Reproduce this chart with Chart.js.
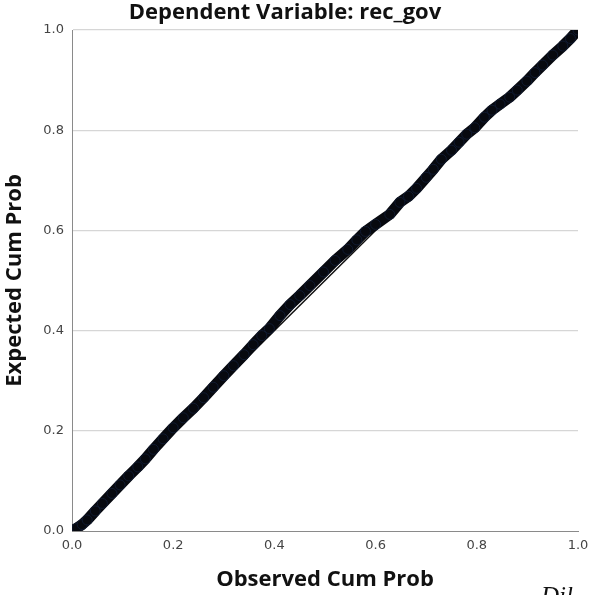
<!DOCTYPE html>
<html>
<head>
<meta charset="utf-8">
<script src="https://cdn.jsdelivr.net/npm/chart.js@4.4.1/dist/chart.umd.min.js"></script>
<style>
  html, body { margin: 0; padding: 0; background: #fff; }
  #wrap { width: 592px; height: 595px; }
</style>
</head>
<body>
<div id="wrap"><canvas id="pp"></canvas></div>
<script>
// Normal P-P plot of regression standardized residual
const observedCum = [0.000, 0.010, 0.020, 0.030, 0.046, 0.060, 0.079, 0.095, 0.112, 0.130,
  0.145, 0.161, 0.180, 0.200, 0.220, 0.240, 0.260, 0.279, 0.300, 0.319,
  0.340, 0.358, 0.375, 0.390, 0.411, 0.431, 0.450, 0.470, 0.497, 0.520,
  0.545, 0.563, 0.580, 0.600, 0.628, 0.648, 0.665, 0.681, 0.700, 0.714,
  0.730, 0.750, 0.765, 0.780, 0.796, 0.815, 0.830, 0.846, 0.865, 0.880,
  0.899, 0.915, 0.930, 0.950, 0.970, 0.985, 1.000];
const expectedCum = [0.000, 0.006, 0.013, 0.022, 0.040, 0.055, 0.075, 0.092, 0.110, 0.128,
  0.144, 0.163, 0.184, 0.206, 0.226, 0.245, 0.266, 0.287, 0.310, 0.330,
  0.352, 0.372, 0.390, 0.404, 0.430, 0.452, 0.470, 0.490, 0.517, 0.540,
  0.562, 0.581, 0.598, 0.612, 0.632, 0.656, 0.668, 0.684, 0.706, 0.722,
  0.742, 0.760, 0.776, 0.792, 0.805, 0.826, 0.840, 0.852, 0.866, 0.880,
  0.898, 0.915, 0.930, 0.950, 0.968, 0.983, 1.000];
const diagX = [0, 1];
const diagY = [0, 1];
const tickVals = [0, 0.2, 0.4, 0.6, 0.8, 1.0];

const titleText = "Dependent Variable: rec_gov";
const xTitle = "Observed Cum Prob";
const yTitle = "Expected Cum Prob";

const points = observedCum.map((x, i) => ({ x: x, y: expectedCum[i] }));
const diag = diagX.map((x, i) => ({ x: x, y: diagY[i] }));

// title at top and the cut-off text of the page below the figure
const extraText = {
  id: "extraText",
  afterDraw(chart) {
    const ctx = chart.ctx;
    ctx.save();
    ctx.fillStyle = "#111";
    ctx.textAlign = "center";
    ctx.textBaseline = "alphabetic";
    ctx.font = "bold 22px 'Open Sans'";
    ctx.fillText(titleText, 285, 19);
    ctx.textAlign = "left";
    ctx.font = "italic 25px 'Liberation Serif'";
    ctx.fillText("Dil", 541, 604);
    ctx.restore();
  }
};

new Chart(document.getElementById("pp"), {
  type: "scatter",
  data: {
    datasets: [
      {
        label: "diagonal",
        data: diag,
        showLine: true,
        borderColor: "#111",
        borderWidth: 1.5,
        pointRadius: 0,
        order: 2
      },
      {
        label: "residuals",
        data: points,
        showLine: true,
        borderColor: "#07090f",
        borderWidth: 11,
        borderCapStyle: "round",
        borderJoinStyle: "round",
        backgroundColor: "#07090f",
        pointBorderColor: "#101a30",
        pointRadius: 5,
        pointBorderWidth: 1,
        order: 1
      }
    ]
  },
  options: {
    responsive: true,
    maintainAspectRatio: false,
    animation: false,
    layout: { padding: { top: 30, right: 14, left: 0, bottom: 0 } },
    plugins: {
      legend: { display: false },
      tooltip: { enabled: false }
    },
    scales: {
      x: {
        type: "linear",
        min: 0,
        max: 1,
        afterFit: (s) => { s.height = 64; s.paddingLeft = 0; s.paddingRight = 0; },
        afterBuildTicks: (s) => { s.ticks = tickVals.map(v => ({ value: v })); },
        grid: { display: false, drawTicks: false },
        border: { color: "#8a8a8a", width: 1 },
        ticks: {
          padding: 7,
          color: "#444",
          font: { family: "DejaVu Sans", size: 13 },
          callback: (v) => v.toFixed(1)
        },
        title: {
          display: true,
          text: xTitle,
          color: "#111",
          font: { family: "Open Sans", size: 22, weight: "bold" },
          padding: { bottom: 2 }
        }
      },
      y: {
        type: "linear",
        min: 0,
        max: 1,
        afterFit: (s) => { s.width = 72; s.paddingTop = 0; s.paddingBottom = 0; },
        afterBuildTicks: (s) => { s.ticks = tickVals.map(v => ({ value: v })); },
        grid: {
          drawTicks: false,
          color: (c) => (c.tick && c.tick.value === 0 ? "rgba(0,0,0,0)" : "#d6d6d6"),
          lineWidth: 1.2
        },
        border: { color: "#8a8a8a", width: 1 },
        ticks: {
          padding: 8,
          color: "#444",
          font: { family: "DejaVu Sans", size: 13 },
          callback: (v) => v.toFixed(1)
        },
        title: {
          display: true,
          text: yTitle,
          color: "#111",
          font: { family: "Open Sans", size: 22, weight: "bold" },
          padding: { top: 2 }
        }
      }
    }
  },
  plugins: [extraText]
});
</script>
</body>
</html>
